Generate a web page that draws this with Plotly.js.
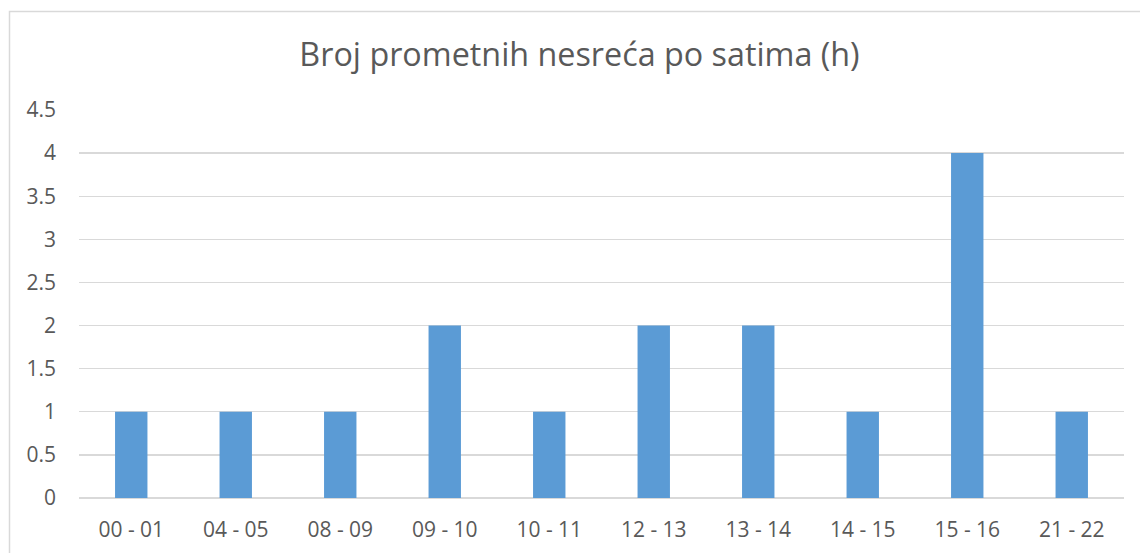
<!DOCTYPE html>
<html>
<head>
<meta charset="utf-8">
<script src="https://cdn.plot.ly/plotly-3.0.1.min.js"></script>
<style>html,body{margin:0;padding:0;background:#fff;}#chart{width:1140px;height:553px;}</style>
</head>
<body>
<div id="chart"></div>
<script>
const categories = ["00 - 01","04 - 05","08 - 09","09 - 10","10 - 11","12 - 13","13 - 14","14 - 15","15 - 16","21 - 22"];
const values = [1,1,1,2,1,2,2,1,4,1];
const yTicks = [0,0.5,1,1.5,2,2.5,3,3.5,4,4.5];
const yTickText = ["0","0.5","1","1.5","2","2.5","3","3.5","4","4.5"];
const titleText = "Broj prometnih nesreća po satima (h)";

const W = 1140, H = 553;
const L = 79, R = 16, T = 110, B = 55;
const pw = W - L - R, ph = H - T - B;
const px = v => (v - L) / pw;
const py = v => (H - B - v) / ph;

const trace = {
  type: 'bar',
  x: categories,
  y: values,
  marker: {color: '#5B9BD5', line: {width: 0}},
  width: 0.31,
  hoverinfo: 'x+y'
};

const layout = {
  width: W, height: H,
  margin: {l: L, r: R, t: T, b: B, pad: 0},
  paper_bgcolor: '#ffffff',
  plot_bgcolor: '#ffffff',
  font: {family: 'Open Sans, sans-serif', color: '#595959', size: 21},
  title: {
    text: titleText,
    font: {family: 'Open Sans, sans-serif', size: 32.3, color: '#595959'},
    xref: 'paper', x: px(579.5), xanchor: 'center',
    yref: 'container', y: 1 - 55 / H, yanchor: 'middle'
  },
  showlegend: false,
  xaxis: {
    type: 'category',
    showgrid: false,
    zeroline: false,
    showline: false,
    ticks: '',
    ticklabelstandoff: 17,
    tickfont: {size: 21, color: '#595959'}
  },
  yaxis: {
    range: [0, 4.5],
    tickvals: yTicks,
    ticktext: yTickText,
    showgrid: true,
    gridcolor: '#D9D9D9',
    gridwidth: 1.3,
    zeroline: true,
    zerolinecolor: '#D9D9D9',
    zerolinewidth: 1.3,
    showline: false,
    ticks: '',
    ticklabelstandoff: 22,
    tickfont: {size: 21, color: '#595959'}
  },
  shapes: [{
    type: 'rect', xref: 'paper', yref: 'paper',
    x0: px(9.5), x1: px(1160), y0: py(11.5), y1: py(580),
    line: {color: '#D9D9D9', width: 1.5},
    fillcolor: 'rgba(0,0,0,0)', layer: 'below'
  }]
};

Plotly.newPlot('chart', [trace], layout, {displayModeBar: false, staticPlot: true});
</script>
</body>
</html>
